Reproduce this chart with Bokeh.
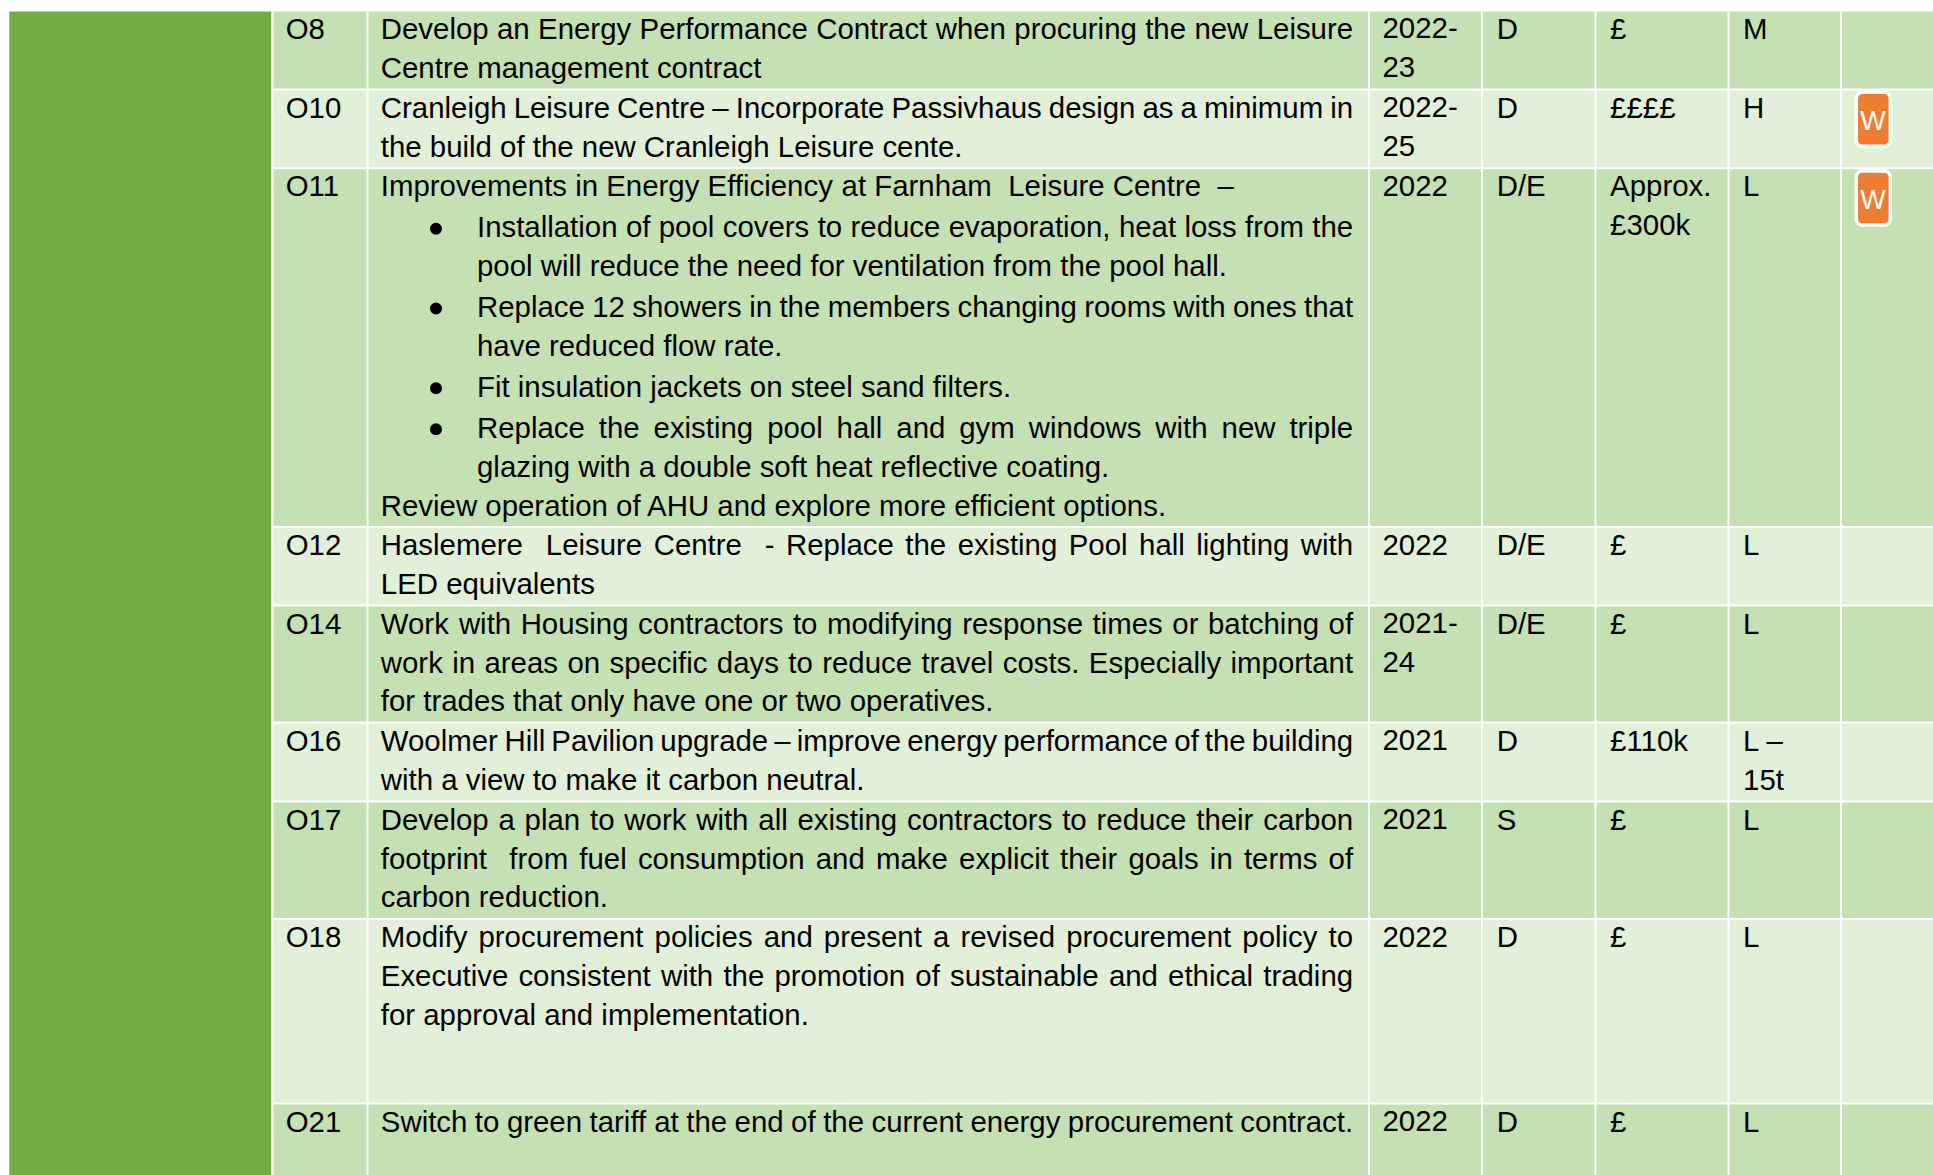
import re
from bokeh.core.properties import value
from bokeh.embed import file_html
from bokeh.models import ColumnDataSource, Range1d
from bokeh.plotting import figure
from bokeh.resources import INLINE

# ---- table content ----
ids = ["O8", "O10", "O11", "O12", "O14", "O16", "O17", "O18", "O21"]
descriptions = [
    ["Develop an Energy Performance Contract when procuring the new Leisure",
     "Centre management contract"],
    ["Cranleigh Leisure Centre – Incorporate Passivhaus design as a minimum in",
     "the build of the new Cranleigh Leisure cente."],
    ["Improvements in Energy Efficiency at Farnham  Leisure Centre  –",
     "Installation of pool covers to reduce evaporation, heat loss from the",
     "pool will reduce the need for ventilation from the pool hall.",
     "Replace 12 showers in the members changing rooms with ones that",
     "have reduced flow rate.",
     "Fit insulation jackets on steel sand filters.",
     "Replace the existing pool hall and gym windows with new triple",
     "glazing with a double soft heat reflective coating.",
     "Review operation of AHU and explore more efficient options."],
    ["Haslemere  Leisure Centre  - Replace the existing Pool hall lighting with",
     "LED equivalents"],
    ["Work with Housing contractors to modifying response times or batching of",
     "work in areas on specific days to reduce travel costs. Especially important",
     "for trades that only have one or two operatives."],
    ["Woolmer Hill Pavilion upgrade – improve energy performance of the building",
     "with a view to make it carbon neutral."],
    ["Develop a plan to work with all existing contractors to reduce their carbon",
     "footprint  from fuel consumption and make explicit their goals in terms of",
     "carbon reduction."],
    ["Modify procurement policies and present a revised procurement policy to",
     "Executive consistent with the promotion of sustainable and ethical trading",
     "for approval and implementation."],
    ["Switch to green tariff at the end of the current energy procurement contract."],
]
years = [["2022-", "23"], ["2022-", "25"], ["2022"], ["2022"], ["2021-", "24"],
         ["2021"], ["2021"], ["2022"], ["2022"]]
types = ["D", "D", "D/E", "D/E", "D/E", "D", "S", "D", "D"]
costs = [["£"], ["££££"], ["Approx.", "£300k"], ["£"], ["£"], ["£110k"], ["£"], ["£"], ["£"]]
impact = [["M"], ["H"], ["L"], ["L"], ["L"], ["L –", "15t"], ["L"], ["L"], ["L"]]
badges = ["", "W", "W", "", "", "", "", "", ""]

# ---- layout of the table ----
W, H = 1933, 1175
row_lines = [10.0, 89.0, 167.7, 526.5, 605.0, 722.0, 801.0, 918.5, 1103.0, 1200.0]
crop_top, bottom = 11.0, 1175.0
col_lines = [272.0, 367.0, 1368.5, 1481.5, 1595.0, 1728.0, 1840.5, 1933.0]
side_l, side_r = 8.8, 271.0
id_x, text_x, text_r, indent_x, bullet_x = 285.2, 380.3, 1352.6, 476.5, 435.5
year_x, type_x, cost_x, impact_x = 1382.0, 1496.2, 1609.6, 1742.6
FS, PITCH, FIRST, BULLET_EXTRA = 29.4, 38.9, 28.8, 2.0
DY = -0.38 * FS  # measured shift between requested and drawn baseline
FONT = "Liberation Sans"
DARK, LIGHT, SIDE, ORANGE = "#C5E0B3", "#E2EFD9", "#70AD47", "#ED7D31"

# O11 line styles: which lines are bullets / indented / justified
O11_BULLET = {1, 3, 5, 6}
O11_INDENT = {1, 2, 3, 4, 5, 6, 7}
O11_JUST = {1, 3, 6}
FIT_TO_WIDTH = {"O21"}

# Arial / Liberation Sans advance widths (per 1000 em)
AFM = {" ": 278, "-": 333, ".": 278, ",": 278, "–": 556, "£": 556}
AFM.update({c: 556 for c in "0123456789"})
AFM.update(dict(zip("abcdefghijklmnopqrstuvwxyz",
    [556,556,500,556,556,278,556,556,222,222,500,222,833,556,556,556,556,333,500,278,556,500,722,500,500,500])))
AFM.update(dict(zip("ABCDEFGHIJKLMNOPQRSTUVWXYZ",
    [667,667,722,722,667,611,778,722,278,500,667,556,833,722,778,667,778,722,667,611,722,667,944,667,667,611])))


def tw(s):
    return sum(AFM.get(c, 556) for c in s) * FS / 1000


def place(line, left, right, justify, out_x, out_y, out_t, y):
    parts = re.split(r"( +)", line)
    words, gaps = parts[0::2], [len(g) for g in parts[1::2]]
    natural_gap = tw(" ")
    if justify and gaps:
        extra = (right - left - sum(tw(w) for w in words)) / sum(gaps)
    else:
        extra = natural_gap
    x = left
    for i, w in enumerate(words):
        out_x.append(x)
        out_y.append(y)
        out_t.append(w)
        x += tw(w) + (gaps[i] * extra if i < len(gaps) else 0)


p = figure(width=W, height=H, output_backend="svg", toolbar_location=None,
           x_range=Range1d(0, W), y_range=Range1d(H, 0),
           x_axis_location=None, y_axis_location=None, min_border=0,
           background_fill_color="white", outline_line_color=None)
p.grid.visible = False

# background blocks
tops = [max(t, crop_top) for t in row_lines[:-1]]
bots = [min(b, bottom) for b in row_lines[1:]]
p.quad(left=[side_l], right=[side_r], top=[crop_top], bottom=[bottom],
       fill_color=SIDE, line_color=None)
p.quad(left=[col_lines[0]] * len(ids), right=[col_lines[-1]] * len(ids), top=tops, bottom=bots,
       fill_color=[DARK if i % 2 == 0 else LIGHT for i in range(len(ids))], line_color=None)
# white rules
p.segment(x0=col_lines[:-1], x1=col_lines[:-1], y0=[crop_top] * 7, y1=[bottom] * 7,
          line_color="white", line_width=2)
p.segment(x0=[col_lines[0]] * 8, x1=[col_lines[-1]] * 8, y0=row_lines[1:-1], y1=row_lines[1:-1],
          line_color="white", line_width=2)

xs, ys, ts = [], [], []
bx, by = [], []
for r, lines in enumerate(descriptions):
    y = row_lines[r] + FIRST
    first = y
    for k, line in enumerate(lines):
        left, just = text_x, k < len(lines) - 1 or ids[r] in FIT_TO_WIDTH
        if ids[r] == "O11":
            just = k in O11_JUST
            if k in O11_INDENT:
                left = indent_x
            if k in O11_BULLET:
                y += BULLET_EXTRA
                bx.append(bullet_x)
                by.append(y - 9.2)
        if just or "  " in line:
            place(line, left, text_r, just, xs, ys, ts, y)
        else:
            xs.append(left); ys.append(y); ts.append(line)
        y += PITCH
    xs.append(id_x); ys.append(first); ts.append(ids[r])
    xs.append(type_x); ys.append(first); ts.append(types[r])
    for col_x, cell in ((year_x, years[r]), (cost_x, costs[r]), (impact_x, impact[r])):
        for k, s in enumerate(cell):
            xs.append(col_x); ys.append(first + k * PITCH); ts.append(s)

p.text(x="x", y="y", text="t", source=ColumnDataSource(dict(x=xs, y=ys, t=ts)),
       text_font=value(FONT), text_font_size=value(f"{FS}px"), text_color="#000000",
       text_baseline="alphabetic", text_align="left", y_offset=DY)
p.scatter(x=bx, y=by, size=12, marker="circle", fill_color="black", line_color=None)

# badges
for r, b in enumerate(badges):
    if b:
        top = row_lines[r] + 2.7
        p.quad(left=[1855.8], right=[1889.8], top=[top], bottom=[top + 54.0], fill_color=ORANGE,
               line_color="white", line_width=3.5, border_radius=6)
        p.text(x=[1872.6], y=[top + 39.0], text=[b], text_font=value(FONT),
               text_font_size=value("27px"), text_color="white", y_offset=-10,
               text_baseline="alphabetic", text_align="center")

open("out.html", "w").write(file_html(p, INLINE))
